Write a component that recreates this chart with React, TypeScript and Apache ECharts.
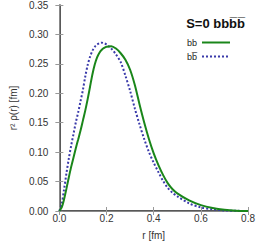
import React, { useEffect, useRef } from "react";
import * as echarts from "echarts";

const rValues = [0, 0.01, 0.02, 0.03, 0.04, 0.05, 0.06, 0.07, 0.08, 0.09, 0.1, 0.11, 0.12, 0.13, 0.14, 0.15, 0.16, 0.17, 0.18, 0.19, 0.2, 0.22, 0.24, 0.26, 0.28, 0.3, 0.32, 0.34, 0.36, 0.38, 0.4, 0.42, 0.44, 0.46, 0.48, 0.5, 0.55, 0.6, 0.65, 0.7, 0.75, 0.8];

const bbValues = [0, 0.006, 0.02, 0.038, 0.057, 0.075, 0.091, 0.107, 0.122, 0.137, 0.154, 0.171, 0.19, 0.211, 0.232, 0.249, 0.261, 0.269, 0.274, 0.277, 0.279, 0.28, 0.276, 0.268, 0.257, 0.24, 0.214, 0.181, 0.15, 0.122, 0.098, 0.078, 0.061, 0.047, 0.037, 0.03, 0.018, 0.01, 0.005, 0.002, 0.0005, 0];

const bbbarValues = [0, 0.012, 0.037, 0.064, 0.089, 0.111, 0.131, 0.151, 0.168, 0.187, 0.206, 0.229, 0.248, 0.262, 0.272, 0.279, 0.283, 0.285, 0.286, 0.285, 0.283, 0.276, 0.266, 0.253, 0.23, 0.204, 0.174, 0.147, 0.122, 0.1, 0.082, 0.066, 0.051, 0.039, 0.031, 0.025, 0.013, 0.006, 0.003, 0.001, 0.0003, 0];

const seriesNames = ["bb", "bb\u0305"];
const titleText = "S=0 bbb\u0305b\u0305";
const xName = "r [fm]";
const yName = "r\u00b2 \u03c1(r) [fm]";

const FONT = "Liberation Sans, Arial, sans-serif";

export default function App() {
  const ref = useRef<HTMLDivElement>(null);
  useEffect(() => {
    if (!ref.current) return;
    const chart = echarts.init(ref.current, undefined, { renderer: "svg" });
    const tickStyle = { show: true, inside: true, length: 4, lineStyle: { color: "#999", width: 1 } };
    chart.setOption({
      animation: false,
      textStyle: { fontFamily: FONT },
      title: {
        text: titleText,
        right: 8,
        top: 12,
        textStyle: { fontSize: 13, fontWeight: "bold", color: "#111", fontFamily: FONT },
      },
      legend: {
        right: 22,
        top: 33,
        orient: "vertical",
        align: "right",
        itemWidth: 28,
        itemHeight: 10,
        itemGap: 5,
        itemStyle: { opacity: 0, borderWidth: 0 },
        textStyle: { fontSize: 9, color: "#222", fontFamily: FONT },
        data: seriesNames,
      },
      grid: { left: 41, right: 8, top: 4, bottom: 31, containLabel: false },
      xAxis: [
        {
          type: "value",
          min: 0,
          max: 0.8,
          interval: 0.2,
          name: xName,
          nameLocation: "middle",
          nameGap: 19,
          nameTextStyle: { fontSize: 10, color: "#333", fontFamily: FONT },
          axisLine: { show: true, lineStyle: { color: "#222", width: 1.5 } },
          axisTick: tickStyle,
          axisLabel: { fontSize: 10, color: "#333", margin: 2, formatter: (v: number) => v.toFixed(1), fontFamily: FONT },
          splitLine: { show: false },
        },
        {
          type: "value",
          position: "top",
          min: 0,
          max: 0.8,
          interval: 0.2,
          axisLine: { show: true, lineStyle: { color: "#888", width: 1 } },
          axisTick: tickStyle,
          axisLabel: { show: false },
          splitLine: { show: false },
        },
      ],
      yAxis: [
        {
          type: "value",
          min: 0,
          max: 0.35,
          interval: 0.05,
          name: yName,
          nameLocation: "middle",
          nameGap: 29,
          nameTextStyle: { fontSize: 10, color: "#333", fontFamily: FONT },
          axisLine: { show: true, lineStyle: { color: "#222", width: 1.5 } },
          axisTick: tickStyle,
          axisLabel: { fontSize: 10, color: "#333", margin: 11, formatter: (v: number) => v.toFixed(2), fontFamily: FONT },
          splitLine: { show: false },
        },
        {
          type: "value",
          position: "right",
          min: 0,
          max: 0.35,
          interval: 0.05,
          axisLine: { show: true, lineStyle: { color: "#888", width: 1 } },
          axisTick: tickStyle,
          axisLabel: { show: false },
          splitLine: { show: false },
        },
      ],
      series: [
        {
          name: seriesNames[0],
          type: "line",
          symbol: "none",
          smooth: 0.3,
          data: rValues.map((r, i) => [r, bbValues[i]]),
          lineStyle: { color: "#1a861a", width: 2, type: "solid" },
          itemStyle: { color: "#1a861a" },
          z: 3,
        },
        {
          name: seriesNames[1],
          type: "line",
          symbol: "none",
          smooth: 0.3,
          data: rValues.map((r, i) => [r, bbbarValues[i]]),
          lineStyle: { color: "#3a3aaa", width: 2, type: "dotted" },
          itemStyle: { color: "#3a3aaa" },
          z: 2,
        },
      ],
    });
    return () => chart.dispose();
  }, []);
  return <div ref={ref} style={{ width: 258, height: 245, position: "absolute", left: 0, top: 0 }} />;
}
